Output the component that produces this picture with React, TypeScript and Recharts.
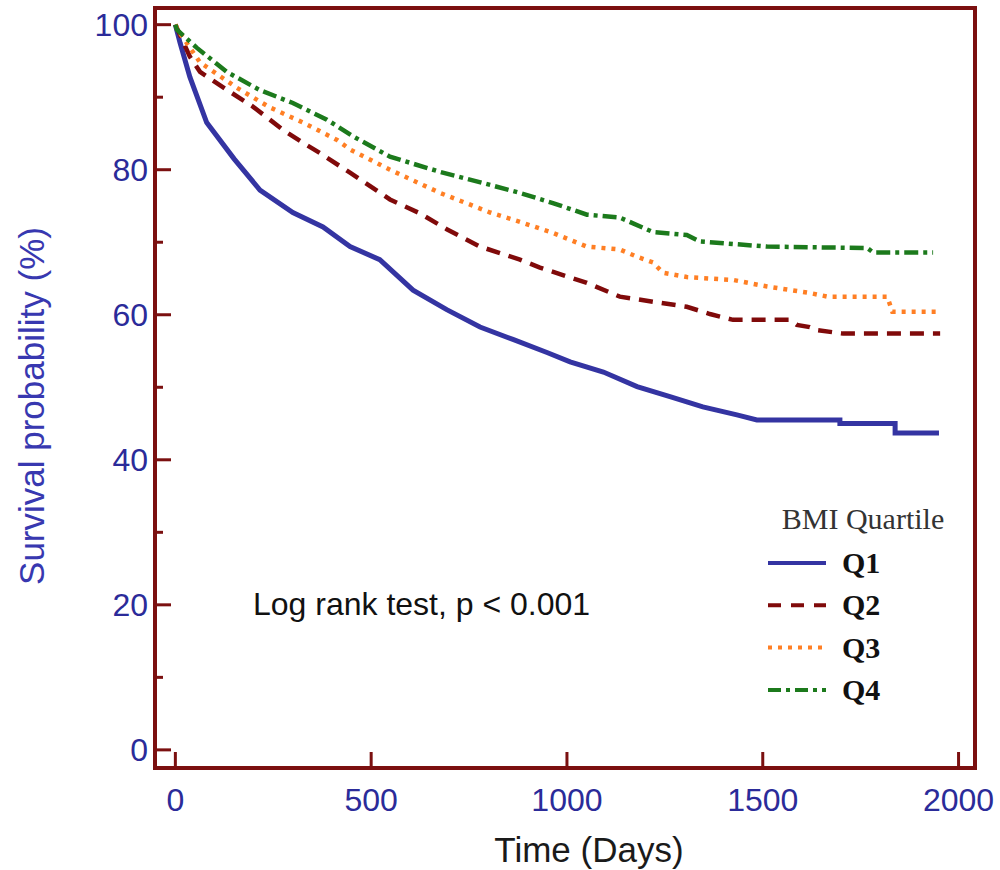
import React from 'react';
import { LineChart, Line, XAxis, YAxis, ReferenceArea, Legend } from 'recharts';

const SANS = '"Liberation Sans", Arial, Helvetica, sans-serif';
const SERIF = '"Liberation Serif", "Times New Roman", Times, serif';
const FRAME = '#7b1010';
const TICK_BLUE = '#2b2b99';

const xTicks = [0, 500, 1000, 1500, 2000];
const yTicks = [0, 10, 20, 30, 40, 50, 60, 70, 80, 90, 100];
const xDomain = [-52, 2042];
const yDomain = [-2.5, 102.3];

// Kaplan-Meier curves (days, survival %)
const q1Days = [0, 12, 37, 80, 150, 216, 300, 377, 446, 522, 607, 693, 778, 862, 949, 1008, 1093, 1179, 1263, 1347, 1434, 1485, 1697, 1697, 1838, 1838, 1950];
const q1Surv = [100, 97.5, 92.8, 86.5, 81.5, 77.2, 74.1, 72.1, 69.4, 67.6, 63.4, 60.7, 58.3, 56.6, 54.8, 53.5, 52.1, 50.1, 48.7, 47.3, 46.2, 45.5, 45.5, 45.0, 45.0, 43.7, 43.7];

const q2Days = [0, 37, 63, 132, 198, 275, 326, 369, 420, 446, 548, 624, 693, 778, 880, 931, 1051, 1135, 1220, 1306, 1365, 1424, 1569, 1587, 1620, 1637, 1705, 1953];
const q2Surv = [100, 95.6, 93.5, 91.0, 88.7, 85.5, 83.7, 82.3, 80.5, 79.6, 75.9, 74.0, 71.8, 69.4, 67.6, 66.5, 64.4, 62.5, 61.8, 61.1, 60.1, 59.3, 59.3, 58.6, 58.3, 57.9, 57.4, 57.4];

const q3Days = [0, 11, 63, 157, 241, 326, 413, 446, 548, 676, 804, 880, 964, 1051, 1135, 1179, 1220, 1245, 1306, 1424, 1511, 1620, 1665, 1818, 1831, 1945];
const q3Surv = [100, 98.9, 94.8, 91.3, 88.6, 86.5, 84.1, 82.8, 80.0, 76.8, 74.1, 72.8, 71.3, 69.4, 69.0, 68.0, 67.2, 65.8, 65.2, 64.8, 63.9, 63.0, 62.5, 62.5, 60.4, 60.4];

const q4Days = [0, 4, 55, 131, 215, 300, 387, 454, 548, 676, 804, 880, 964, 1051, 1135, 1220, 1306, 1340, 1391, 1511, 1767, 1782, 1935];
const q4Surv = [100, 99.3, 96.8, 93.5, 91.0, 89.2, 86.9, 84.6, 81.8, 79.7, 77.9, 76.8, 75.4, 73.8, 73.4, 71.4, 71.0, 70.1, 69.9, 69.4, 69.2, 68.6, 68.6];

const toPoints = (days: number[], surv: number[]) => days.map((t, i) => ({ t, s: surv[i] }));

const series = [
  { name: 'Q1', data: toPoints(q1Days, q1Surv), color: '#3434a2', width: 5, dash: undefined, legendDash: undefined },
  { name: 'Q2', data: toPoints(q2Days, q2Surv), color: '#800a0a', width: 4.5, dash: '14 9', legendDash: '13 10' },
  { name: 'Q3', data: toPoints(q3Days, q3Surv), color: '#ff7f24', width: 4.5, dash: '4 6', legendDash: '4 6' },
  { name: 'Q4', data: toPoints(q4Days, q4Surv), color: '#1c7a1c', width: 4.5, dash: '14 5 4 5', legendDash: '13 5 4 5' },
];

const YTick = (props: any) => {
  const { x, y, payload } = props;
  const major = payload.value % 20 === 0;
  const ax = x + 7;
  return (
    <g>
      <line x1={ax} x2={ax + (major ? 16 : 8)} y1={y} y2={y} stroke={FRAME} strokeWidth={3} />
      {major && (
        <text x={x} y={y} dy="0.36em" textAnchor="end" fill={TICK_BLUE} fontSize={32} fontFamily={SANS}>
          {payload.value}
        </text>
      )}
    </g>
  );
};

const XTick = (props: any) => {
  const { x, y, payload } = props;
  const ay = y - 20;
  return (
    <g>
      <line x1={x} x2={x} y1={ay} y2={ay - 16} stroke={FRAME} strokeWidth={3} />
      <text x={x} y={ay + 20} dy="0.73em" textAnchor="middle" fill={TICK_BLUE} fontSize={32} fontFamily={SANS}>
        {payload.value}
      </text>
    </g>
  );
};

const YTitle = (props: any) => {
  const vb = props.viewBox || { x: 8, y: 8, width: 147, height: 760 };
  const cx = vb.x + 24;
  const cy = vb.y + vb.height / 2 + 18;
  return (
    <text x={cx} y={cy} dy="0.35em" textAnchor="middle" transform={`rotate(-90 ${cx} ${cy})`}
      fill="#3838b0" fontSize={35} fontFamily={SANS}>
      Survival probability (%)
    </text>
  );
};

const XTitle = (props: any) => {
  const vb = props.viewBox || { x: 155, y: 768, width: 820, height: 102 };
  return (
    <text x={vb.x + vb.width / 2 + 24} y={vb.y + 94} textAnchor="middle" fill="#1a1a1a" fontSize={35} fontFamily={SANS}>
      Time (Days)
    </text>
  );
};

const LegendBox = (props: any) => {
  const payload = props.payload || [];
  return (
    <svg width={220} height={215}>
      <text x={103} y={34} textAnchor="middle" fill="#333" fontSize={30} fontFamily={SERIF}>
        BMI Quartile
      </text>
      {payload.map((entry: any, i: number) => {
        const cfg = series.find((s) => s.name === entry.value);
        const y = 68 + i * 42.3;
        return (
          <g key={entry.value}>
            <line x1={8} x2={66} y1={y} y2={y} stroke={entry.color} strokeWidth={4}
              strokeDasharray={cfg ? cfg.legendDash : undefined} />
            <text x={82} y={y + 10} fill="#111" fontSize={30} fontWeight="bold" fontFamily={SERIF}>
              {entry.value}
            </text>
          </g>
        );
      })}
    </svg>
  );
};

export default function App() {
  return (
    <div style={{ position: 'relative', width: 1000, height: 870 }}>
      <style>{'body { margin: 0; }'}</style>
      <LineChart width={1000} height={870} margin={{ top: 8, right: 25, bottom: 0, left: 8 }}>
        <XAxis
          type="number"
          dataKey="t"
          domain={xDomain}
          ticks={xTicks}
          interval={0}
          allowDataOverflow
          height={102}
          axisLine={false}
          tickLine={false}
          tickSize={0}
          tickMargin={20}
          tick={<XTick />}
          label={(p: any) => <XTitle {...p} />}
        />
        <YAxis
          type="number"
          dataKey="s"
          domain={yDomain}
          ticks={yTicks}
          interval={0}
          allowDataOverflow
          width={147}
          axisLine={false}
          tickLine={false}
          tickSize={0}
          tickMargin={7}
          tick={<YTick />}
          label={(p: any) => <YTitle {...p} />}
        />
        <ReferenceArea
          x1={xDomain[0]}
          x2={xDomain[1]}
          y1={yDomain[0]}
          y2={yDomain[1]}
          fill="none"
          stroke={FRAME}
          strokeWidth={4}
        />
        {series.map((s) => (
          <Line
            key={s.name}
            name={s.name}
            data={s.data}
            dataKey="s"
            type="linear"
            stroke={s.color}
            strokeWidth={s.width}
            strokeDasharray={s.dash}
            dot={false}
            activeDot={false}
            isAnimationActive={false}
          />
        ))}
        <Legend
          layout="horizontal"
          verticalAlign="middle"
          align="center"
          content={<LegendBox />}
          wrapperStyle={{ position: 'absolute', left: 760, top: 495, width: 220, height: 215 }}
        />
      </LineChart>
      <div
        style={{
          position: 'absolute',
          left: 253,
          top: 588,
          fontFamily: SANS,
          fontSize: 32,
          lineHeight: '32px',
          color: '#111',
          whiteSpace: 'nowrap',
        }}
      >
        Log rank test, p &lt; 0.001
      </div>
    </div>
  );
}
